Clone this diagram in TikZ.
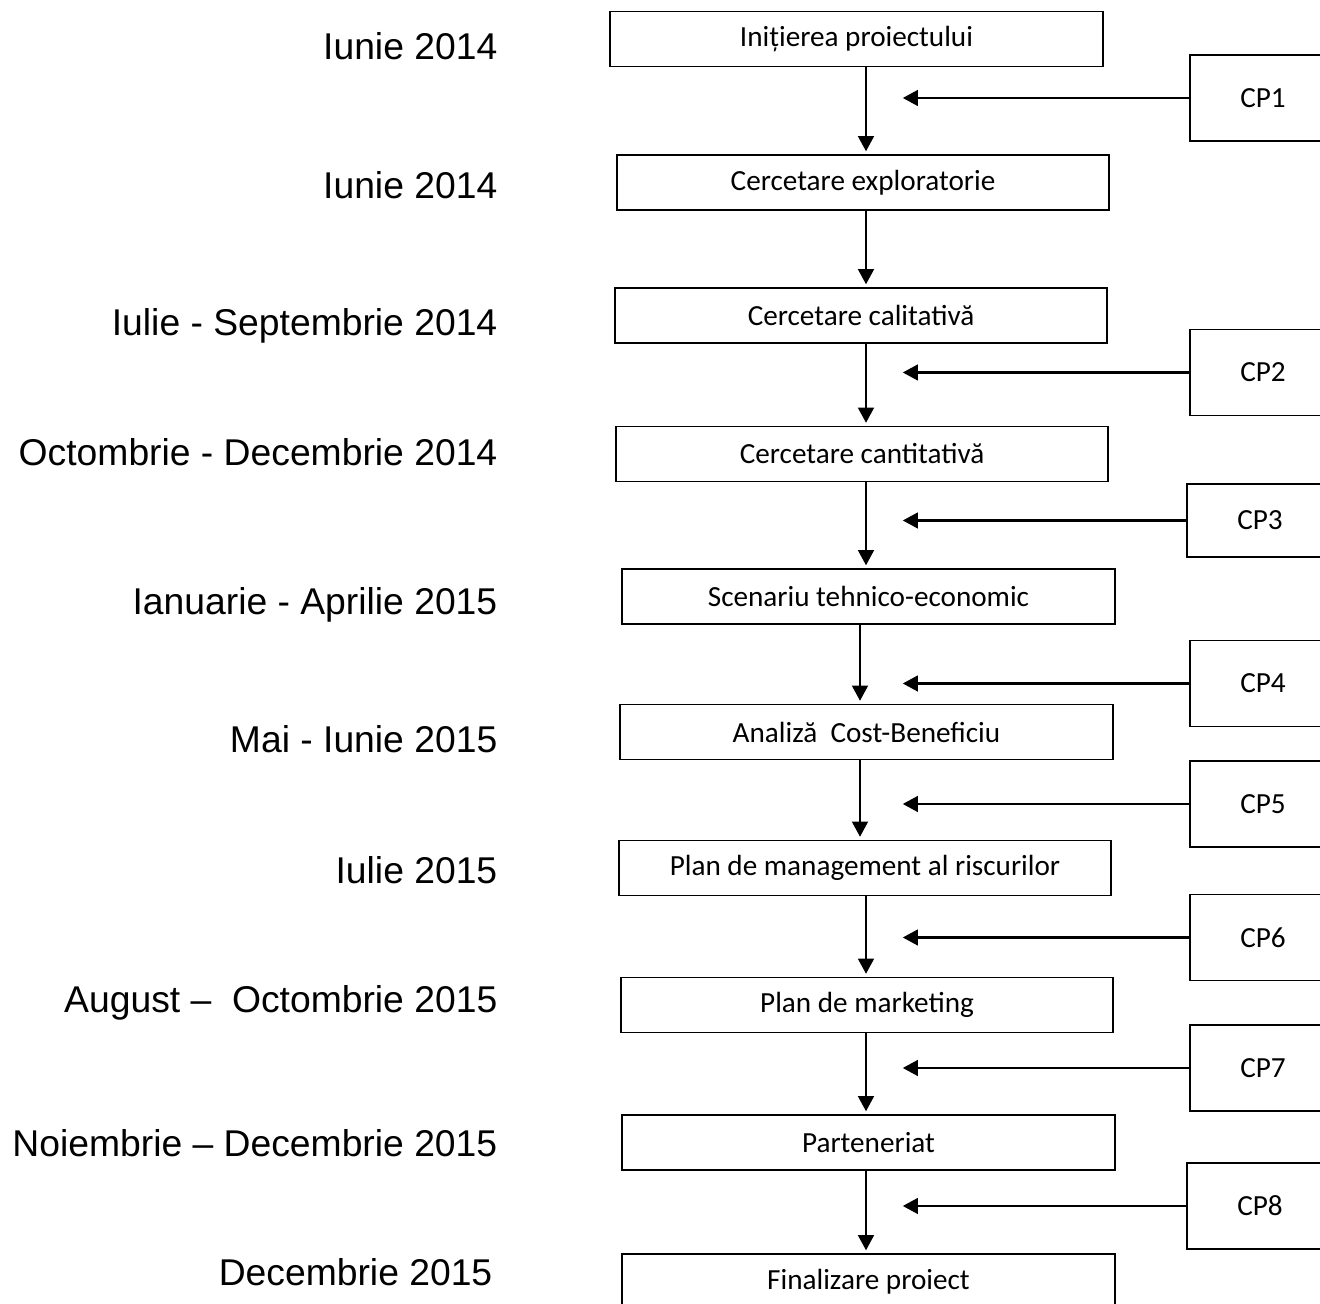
\documentclass[tikz,border=0pt]{standalone}
\usepackage{fontspec}
\setmainfont{Carlito}
\newfontfamily\datefont{Liberation Sans}
\usetikzlibrary{arrows.meta,positioning}

\tikzset{
  phase/.style={draw, line width=0.5pt, minimum width=4.92cm, minimum height=0.55cm, inner sep=0pt, font=\fontsize{8.3}{10}\selectfont},
  cpbox/.style={draw, line width=0.5pt, minimum width=1.46cm, minimum height=0.86cm, inner sep=0pt, font=\fontsize{8.3}{10}\selectfont},
  when/.style={anchor=base east, inner sep=0pt, font=\datefont\fontsize{10.6}{12}\selectfont},
  flow/.style={-{Triangle[length=4.3pt,width=4.5pt]}, line width=0.6pt, shorten >=0.8pt},
}

\begin{document}
\begin{tikzpicture}[x=0.01cm, y=-0.01cm]
  \clip (0,0) rectangle (1320,1304);
  \fill[white] (0,0) rectangle (1320,1304);

  % phases
  \node[phase] (b1) at (856.5,39) {Inițierea proiectului};
  \node[phase] (b2) at (863,182.5) {Cercetare exploratorie};
  \node[phase] (b3) at (861,315.5) {Cercetare calitativă};
  \node[phase] (b4) at (862,454) {Cercetare cantitativă};
  \node[phase] (b5) at (868.5,596.5) {Scenariu tehnico-economic};
  \node[phase] (b6) at (866.5,732) {Analiză\ \ Cost-Beneficiu};
  \node[phase] (b7) at (865,868) {Plan de management al riscurilor};
  \node[phase] (b8) at (867,1005) {Plan de marketing};
  \node[phase] (b9) at (868.5,1142.5) {Parteneriat};
  \node[phase] (b10) at (868.5,1281.5) {Finalizare proiect};

  \coordinate (axis) at (866,0);
  \coordinate (axisb) at (860,0);
  \foreach \a/\b/\ax in {b1/b2/axis,b2/b3/axis,b3/b4/axis,b4/b5/axis,b5/b6/axisb,b6/b7/axisb,b7/b8/axis,b8/b9/axis,b9/b10/axis}
    \draw[flow] (\a.south -| \ax) -- (\b.north -| \ax);

  % control points
  \coordinate (tip) at (900,0);
  \node[cpbox] (cp1) at (1263,98) {CP1};
  \node[cpbox] (cp2) at (1263,372.5) {CP2};
  \node[cpbox, minimum height=0.73cm] (cp3) at (1260,520.5) {CP3};
  \node[cpbox] (cp4) at (1263,683.5) {CP4};
  \node[cpbox] (cp5) at (1263,804) {CP5};
  \node[cpbox] (cp6) at (1263,937.5) {CP6};
  \node[cpbox] (cp7) at (1263,1068) {CP7};
  \node[cpbox] (cp8) at (1260,1206) {CP8};

  \foreach \c in {cp1,cp2,cp3,cp4,cp5,cp6,cp7,cp8}
    \draw[flow] (\c.west) -- (\c.west -| tip);

  % dates
  \node[when] (d1) at (498,60) {Iunie 2014};
  \node[when] (d2) at (498,199) {Iunie 2014};
  \node[when] (d3) at (498,336) {Iulie - Septembrie 2014};
  \node[when] (d4) at (498,466) {Octombrie - Decembrie 2014};
  \node[when] (d5) at (498,615) {Ianuarie - Aprilie 2015};
  \node[when] (d6) at (498,753) {Mai - Iunie 2015};
  \node[when] (d7) at (498,884) {Iulie 2015};
  \node[when] (d8) at (498,1013) {August –\ \ Octombrie 2015};
  \node[when] (d9) at (498,1157) {Noiembrie – Decembrie 2015};
  \node[when] (d10) at (493,1286) {Decembrie 2015};
\end{tikzpicture}
\end{document}
